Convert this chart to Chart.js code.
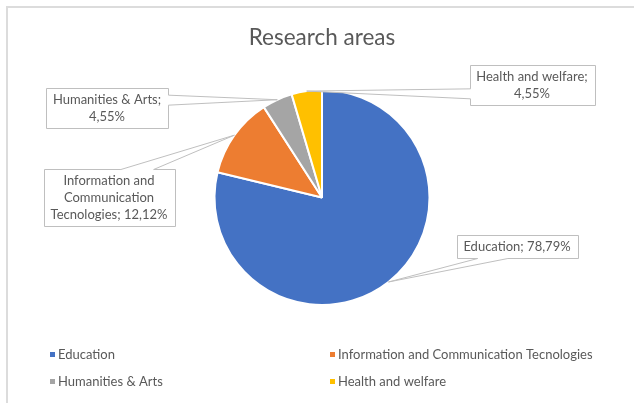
<!DOCTYPE html>
<html>
<head>
<meta charset="utf-8">
<title>Research areas</title>
<script src="https://cdn.jsdelivr.net/npm/chart.js@4.4.1/dist/chart.umd.min.js"></script>
<style>
  body { margin: 0; background: #fff; }
  .frame { position: absolute; left: 6px; top: 6px; width: 700px; height: 500px;
           border-left: 2px solid #dcdcdc; border-top: 2px solid #dcdcdc; }
  #research-chart { position: absolute; left: 0; top: 0; }
</style>
</head>
<body>
<div class="frame"></div>
<canvas id="research-chart" width="634" height="403"></canvas>
<script>
const areas = ["Education", "Information and Communication Tecnologies", "Humanities & Arts", "Health and welfare"];
const shares = [78.79, 12.12, 4.55, 4.55];
const areaColors = ['#4472c4', '#ed7d31', '#a5a5a5', '#ffc000'];

const textColor = '#595959';

// where each data label box sits, as an offset from the pie centre
const calloutBoxes = [
  { dx: 195, dy: 48 },
  { dx: -213, dy: -1 },
  { dx: -215, dy: -90 },
  { dx: 210, dy: -113 }
];

function wrapText(ctx, text, maxWidth) {
  const words = text.split(' ');
  const lines = [];
  let line = '';
  words.forEach(w => {
    const test = line ? line + ' ' + w : w;
    if (line && ctx.measureText(test).width > maxWidth) {
      lines.push(line);
      line = w;
    } else {
      line = test;
    }
  });
  if (line) lines.push(line);
  return lines;
}

// boxed labels with a wedge pointing at the slice
const calloutPlugin = {
  id: 'callouts',
  afterDatasetsDraw(chart, args, opts) {
    const ctx = chart.ctx;
    const meta = chart.getDatasetMeta(0);
    const values = chart.data.datasets[0].data;
    ctx.save();
    ctx.font = opts.font;
    meta.data.forEach((arc, i) => {
      const p = arc.getProps(['x', 'y', 'startAngle', 'endAngle', 'outerRadius'], true);
      const mid = (p.startAngle + p.endAngle) / 2;
      const tip = { x: p.x + Math.cos(mid) * p.outerRadius, y: p.y + Math.sin(mid) * p.outerRadius };
      const text = chart.data.labels[i] + '; ' + values[i].toFixed(2).replace('.', ',') + '%';
      const lines = wrapText(ctx, text, opts.wrapWidth);
      const w = Math.round(Math.max(...lines.map(l => ctx.measureText(l).width)) + 2 * opts.padX);
      const h = lines.length * opts.lineHeight + 2 * opts.padY;
      const cx = Math.round(p.x + opts.boxes[i].dx), cy = Math.round(p.y + opts.boxes[i].dy);
      const x0 = Math.round(cx - w / 2) + 0.5, y0 = Math.round(cy - h / 2) + 0.5;
      const x1 = x0 + w, y1 = y0 + h;

      const rx = (tip.x - cx) / w, ry = (tip.y - cy) / h;
      let pts;
      if (Math.abs(rx) > Math.abs(ry)) {
        const ya = ry < 0 ? y0 + h / 6 : y0 + 7 * h / 12;
        const yb = ry < 0 ? y0 + 5 * h / 12 : y0 + 5 * h / 6;
        if (rx < 0) pts = [[x0, y0], [x1, y0], [x1, y1], [x0, y1], [x0, yb], [tip.x, tip.y], [x0, ya]];
        else pts = [[x0, y0], [x1, y0], [x1, ya], [tip.x, tip.y], [x1, yb], [x1, y1], [x0, y1]];
      } else {
        const xa = rx < 0 ? x0 + w / 6 : x0 + 7 * w / 12;
        const xb = rx < 0 ? x0 + 5 * w / 12 : x0 + 5 * w / 6;
        if (ry < 0) pts = [[x0, y0], [xa, y0], [tip.x, tip.y], [xb, y0], [x1, y0], [x1, y1], [x0, y1]];
        else pts = [[x0, y0], [x1, y0], [x1, y1], [xb, y1], [tip.x, tip.y], [xa, y1], [x0, y1]];
      }
      ctx.beginPath();
      pts.forEach((pt, k) => k ? ctx.lineTo(pt[0], pt[1]) : ctx.moveTo(pt[0], pt[1]));
      ctx.closePath();
      ctx.fillStyle = '#fff';
      ctx.fill();
      ctx.strokeStyle = opts.borderColor;
      ctx.lineWidth = 1;
      ctx.stroke();

      ctx.fillStyle = opts.color;
      ctx.textAlign = 'center';
      ctx.textBaseline = 'middle';
      lines.forEach((l, k) => {
        ctx.fillText(l, cx, y0 + opts.padY + opts.lineHeight * (k + 0.5));
      });
    });
    ctx.restore();
  }
};

// two column legend under the pie
const gridLegendPlugin = {
  id: 'gridLegend',
  afterDraw(chart, args, opts) {
    const ctx = chart.ctx;
    const colors = chart.data.datasets[0].backgroundColor;
    ctx.save();
    ctx.font = opts.font;
    ctx.textBaseline = 'middle';
    ctx.textAlign = 'left';
    chart.data.labels.forEach((label, i) => {
      const x = opts.columns[i % 2];
      const y = opts.top + Math.floor(i / 2) * opts.rowHeight;
      ctx.fillStyle = colors[i];
      ctx.fillRect(x, y - 3, 5, 5);
      ctx.fillStyle = opts.color;
      ctx.fillText(label, x + 8, y);
    });
    ctx.restore();
  }
};

new Chart(document.getElementById('research-chart'), {
  type: 'pie',
  data: {
    labels: areas,
    datasets: [{
      data: shares,
      backgroundColor: areaColors,
      borderColor: '#fff',
      borderWidth: 2
    }]
  },
  options: {
    responsive: false,
    animation: false,
    layout: { padding: { left: 10, right: 0, top: 0, bottom: 97 } },
    plugins: {
      legend: { display: false },
      tooltip: { enabled: false },
      title: {
        display: true,
        text: 'Research areas',
        color: textColor,
        font: { family: 'Lato', size: 22.5, weight: 'normal' },
        padding: { top: 24, bottom: 38 }
      },
      callouts: {
        font: '13px Lato',
        color: textColor,
        borderColor: '#bfbfbf',
        wrapWidth: 124,
        padX: 7,
        padY: 3,
        lineHeight: 17,
        boxes: calloutBoxes
      },
      gridLegend: {
        font: '13px Lato',
        color: textColor,
        columns: [50, 330],
        top: 355,
        rowHeight: 27
      }
    }
  },
  plugins: [calloutPlugin, gridLegendPlugin]
});
</script>
</body>
</html>
